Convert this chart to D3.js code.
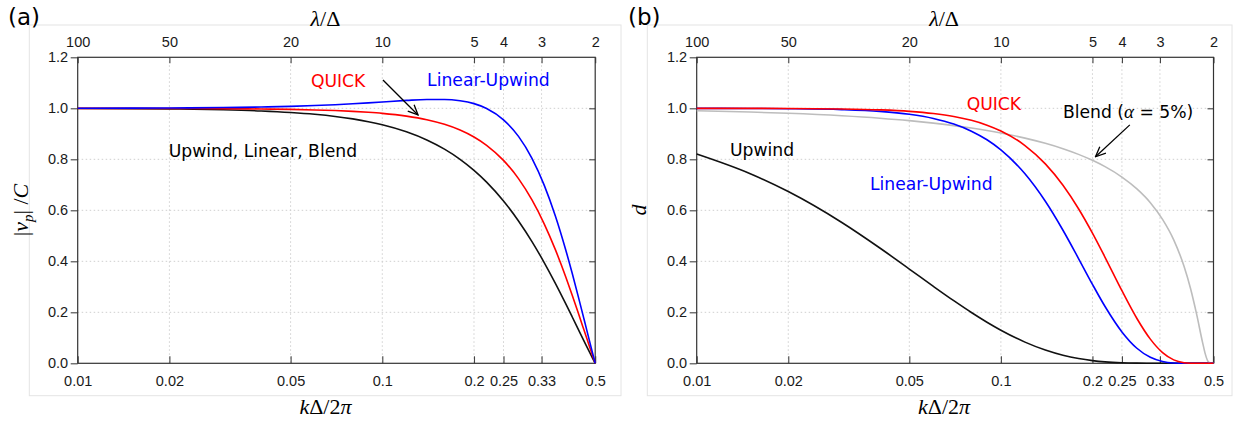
<!DOCTYPE html>
<html>
<head>
<meta charset="utf-8">
<script src="https://cdn.jsdelivr.net/npm/d3@7"></script>
<style>
  body { margin: 0; background: #fff; }
</style>
</head>
<body>
<div id="chart"></div>
<script>
// sample points of kΔ/2π
var kValues = [0.01, 0.015, 0.02, 0.03, 0.04, 0.05, 0.06, 0.07, 0.08, 0.09, 0.1, 0.12, 0.14, 0.16, 0.18,
               0.2, 0.22, 0.25, 0.28, 0.31, 0.34, 0.37, 0.4, 0.42, 0.44, 0.46, 0.47, 0.48, 0.49, 0.5];

// (a) phase speed |vp|/C
var speedUpwind = [0.9993, 0.9985, 0.9974, 0.9941, 0.9895, 0.9836, 0.9765, 0.9681, 0.9584, 0.9476, 0.9355, 0.9079, 0.8759, 0.8399, 0.8000,
                   0.7568, 0.7106, 0.6366, 0.5583, 0.4774, 0.3952, 0.3136, 0.2339, 0.1826, 0.1332, 0.0861, 0.0635, 0.0416, 0.0204, 0];
var speedQuick = [0.9998, 0.9996, 0.9993, 0.9985, 0.9973, 0.9957, 0.9936, 0.9911, 0.9881, 0.9844, 0.9802, 0.9694, 0.9553, 0.9373, 0.9149,
                  0.8876, 0.8550, 0.7958, 0.7241, 0.6406, 0.5470, 0.4456, 0.3396, 0.2682, 0.1974, 0.1284, 0.0949, 0.0623, 0.0306, 0];
var speedLinearUpwind = [1.0003, 1.0007, 1.0013, 1.0029, 1.0051, 1.0077, 1.0108, 1.0141, 1.0177, 1.0213, 1.0248, 1.0309, 1.0347, 1.0348, 1.0297,
                         1.0183, 0.9994, 0.9549, 0.8898, 0.8039, 0.6987, 0.5777, 0.4454, 0.3538, 0.2616, 0.1707, 0.1263, 0.0830, 0.0408, 0];

// (b) damping d
var dampUpwind = [0.8208, 0.7436, 0.6735, 0.5522, 0.4521, 0.3697, 0.3016, 0.2455, 0.1992, 0.1611, 0.1298, 0.0831, 0.0520, 0.0316, 0.0186,
                  0.0104, 0.0055, 0.0019, 0.0005, 0.0001, 0, 0, 0, 0, 0, 0, 0, 0, 0, 0];
var dampQuick = [0.9999, 0.9997, 0.9992, 0.9974, 0.9938, 0.9881, 0.9795, 0.9679, 0.9528, 0.9339, 0.9112, 0.8540, 0.7822, 0.6983, 0.6062,
                 0.5105, 0.4158, 0.2846, 0.1758, 0.0948, 0.0420, 0.0135, 0.0024, 0.0004, 0, 0, 0, 0, 0, 0];
var dampLinearUpwind = [0.9998, 0.9993, 0.9984, 0.9948, 0.9878, 0.9765, 0.9602, 0.9382, 0.9103, 0.8765, 0.8370, 0.7431, 0.6353, 0.5217, 0.4109,
                        0.3097, 0.2227, 0.1232, 0.0590, 0.0234, 0.0070, 0.0013, 0.0001, 0, 0, 0, 0, 0, 0, 0];
var dampBlend = [0.9902, 0.9853, 0.9804, 0.9707, 0.9611, 0.9515, 0.9418, 0.9322, 0.9225, 0.9128, 0.9030, 0.8830, 0.8626, 0.8414, 0.8193,
                 0.7959, 0.7711, 0.7304, 0.6840, 0.6300, 0.5644, 0.4840, 0.3803, 0.2942, 0.1926, 0.0832, 0.0360, 0.0068, 0, 0];

// tick values / labels
var bottomTicks = [0.01, 0.02, 0.05, 0.1, 0.2, 0.25, 1 / 3, 0.5];
var bottomTickLabels = ["0.01", "0.02", "0.05", "0.1", "0.2", "0.25", "0.33", "0.5"];
var topTicks = [100, 50, 20, 10, 5, 4, 3, 2];
var yTicks = [0, 0.2, 0.4, 0.6, 0.8, 1.0, 1.2];

var w = 1242, h = 425;
var plotTop = 57.3, plotBottom = 363.3;
var tickFont = "'Liberation Sans', Arial, Helvetica, sans-serif";
var noteFont = "'DejaVu Sans', Verdana, sans-serif";
var mathFont = "'Liberation Serif', 'Times New Roman', serif";

var svg = d3.select("#chart")
            .append("svg")
            .attr("width", w)
            .attr("height", h)
            .style("background", "#fff");

svg.append("defs").append("marker")
   .attr("id", "arrow")
   .attr("viewBox", "0 0 12 12")
   .attr("refX", 11)
   .attr("refY", 6)
   .attr("markerWidth", 12)
   .attr("markerHeight", 12)
   .attr("markerUnits", "userSpaceOnUse")
   .attr("orient", "auto")
   .append("path")
   .attr("d", "M1,1.5 L11,6 L1,10.5")
   .attr("fill", "none")
   .attr("stroke", "#000")
   .attr("stroke-width", 1.3);

function drawPanel(p) {
  var g = svg.append("g");

  var x = d3.scaleLog().domain([0.01, 0.5]).range([p.left, p.right]);
  var lam = d3.scaleLog().domain([100, 2]).range([p.left, p.right]);
  var y = d3.scaleLinear().domain([0, 1.2]).range([plotBottom, plotTop]);

  // light outer frame
  g.append("rect")
   .attr("x", p.frameLeft).attr("y", 25)
   .attr("width", p.frameRight - p.frameLeft).attr("height", 395.7 - 25)
   .attr("fill", "none").attr("stroke", "#e4e4e4").attr("stroke-width", 1);

  // panel label
  g.append("text")
   .attr("x", p.labelX).attr("y", 25)
   .attr("font-family", noteFont).attr("font-size", "23px")
   .text(p.label);

  // grid
  g.selectAll(".vgrid")
   .data(bottomTicks.slice(1, -1))
   .enter().append("line")
   .attr("x1", function(d) { return x(d); })
   .attr("x2", function(d) { return x(d); })
   .attr("y1", plotTop).attr("y2", plotBottom)
   .attr("stroke", "#cfcfcf").attr("stroke-dasharray", "1.5,2.5");
  g.selectAll(".hgrid")
   .data(yTicks.slice(1, -1))
   .enter().append("line")
   .attr("x1", p.left).attr("x2", p.right)
   .attr("y1", function(d) { return y(d); })
   .attr("y2", function(d) { return y(d); })
   .attr("stroke", "#cfcfcf").attr("stroke-dasharray", "1.5,2.5");

  // axes
  var axB = g.append("g")
    .attr("transform", "translate(0," + plotBottom + ")")
    .call(d3.axisBottom(x).tickValues(bottomTicks)
      .tickFormat(function(d, i) { return bottomTickLabels[i]; })
      .tickSize(-7).tickPadding(12.4));
  var axT = g.append("g")
    .attr("transform", "translate(0," + plotTop + ")")
    .call(d3.axisTop(lam).tickValues(topTicks).tickFormat(d3.format("d"))
      .tickSize(-6).tickPadding(10.6));
  var axL = g.append("g")
    .attr("transform", "translate(" + p.left + ",0)")
    .call(d3.axisLeft(y).tickValues(yTicks).tickFormat(d3.format(".1f"))
      .tickSize(7).tickPadding(2.5));
  var axR = g.append("g")
    .attr("transform", "translate(" + p.right + ",0)")
    .call(d3.axisRight(y).tickValues(yTicks.slice(1, -1)).tickFormat("")
      .tickSize(-6));

  [axB, axT, axL, axR].forEach(function(a) {
    a.select(".domain").remove();
    a.selectAll("line").attr("stroke", "#444").attr("stroke-width", 1.1);
    a.selectAll("text")
     .attr("font-family", tickFont)
     .attr("font-size", "14.5px")
     .attr("fill", "#1a1a1a");
  });

  // plot border
  g.append("rect")
   .attr("x", p.left).attr("y", plotTop)
   .attr("width", p.right - p.left).attr("height", plotBottom - plotTop)
   .attr("fill", "none").attr("stroke", "#333").attr("stroke-width", 1.2);

  // curves
  var line = d3.line()
    .x(function(d) { return x(d[0]); })
    .y(function(d) { return y(d[1]); })
    .curve(d3.curveMonotoneX);

  p.series.forEach(function(s) {
    g.append("path")
     .datum(kValues.map(function(k, i) { return [k, s.values[i]]; }))
     .attr("d", line)
     .attr("fill", "none")
     .attr("stroke", s.color)
     .attr("stroke-width", 1.6);
  });

  // axis titles
  var mid = (p.left + p.right) / 2 - 11;
  var tTop = g.append("text")
    .attr("x", mid).attr("y", 26)
    .attr("text-anchor", "middle")
    .attr("font-family", mathFont).attr("font-size", "22px");
  tTop.append("tspan").attr("font-style", "italic").text("λ");
  tTop.append("tspan").text("/Δ");

  var tBot = g.append("text")
    .attr("x", mid).attr("y", 414)
    .attr("text-anchor", "middle")
    .attr("font-family", mathFont).attr("font-size", "22px");
  tBot.append("tspan").attr("font-style", "italic").text("k");
  tBot.append("tspan").text("Δ/2");
  tBot.append("tspan").attr("font-style", "italic").text("π");

  var tY = g.append("text")
    .attr("transform", "translate(" + p.yTitleX + ",210) rotate(-90)")
    .attr("text-anchor", "middle")
    .attr("font-family", mathFont).attr("font-size", "22px");
  p.yTitle(tY);

  // annotations
  p.notes.forEach(function(n) {
    var t = g.append("text")
      .attr("x", x(n.k)).attr("y", y(n.v))
      .attr("font-family", noteFont).attr("font-size", "17.2px")
      .attr("fill", n.color);
    if (n.parts) {
      n.parts.forEach(function(pt) {
        var ts = t.append("tspan").text(pt.t);
        if (pt.math) ts.attr("font-family", mathFont).attr("font-style", "italic").attr("font-size", "19px");
      });
    } else {
      t.text(n.text);
    }
  });

  p.arrows.forEach(function(a) {
    g.append("line")
     .attr("x1", x(a[0])).attr("y1", y(a[1]))
     .attr("x2", x(a[2])).attr("y2", y(a[3]))
     .attr("stroke", "#000").attr("stroke-width", 1.3)
     .attr("marker-end", "url(#arrow)");
  });
}

drawPanel({
  label: "(a)", labelX: 8,
  left: 77.7, right: 595.2,
  frameLeft: 29.3, frameRight: 621,
  yTitleX: 28,
  yTitle: function(t) {
    t.append("tspan").text("|");
    t.append("tspan").attr("font-style", "italic").text("v");
    t.append("tspan").attr("font-style", "italic").attr("font-size", "15px").attr("dy", 5).text("p");
    t.append("tspan").attr("dy", -5).text("| /");
    t.append("tspan").attr("font-style", "italic").text("C");
  },
  series: [
    {values: speedUpwind, color: "#111"},
    {values: speedQuick, color: "#ff0000"},
    {values: speedLinearUpwind, color: "#0000ff"}
  ],
  notes: [
    {k: 0.0583, v: 1.0835, text: "QUICK", color: "#ff0000"},
    {k: 0.1403, v: 1.0875, text: "Linear-Upwind", color: "#0000ff"},
    {k: 0.0199, v: 0.810, text: "Upwind, Linear, Blend", color: "#000"}
  ],
  arrows: [[0.1005, 1.111, 0.131, 0.974]]
});

drawPanel({
  label: "(b)", labelX: 628,
  left: 696.7, right: 1213.5,
  frameLeft: 647.3, frameRight: 1232,
  yTitleX: 646,
  yTitle: function(t) {
    t.append("tspan").attr("font-style", "italic").text("d");
  },
  series: [
    {values: dampUpwind, color: "#111"},
    {values: dampBlend, color: "#bdbdbd"},
    {values: dampLinearUpwind, color: "#0000ff"},
    {values: dampQuick, color: "#ff0000"}
  ],
  notes: [
    {k: 0.0772, v: 0.993, text: "QUICK", color: "#ff0000"},
    {k: 0.1599, v: 0.962, color: "#000",
     parts: [{t: "Blend ("}, {t: "α", math: true}, {t: " = 5%)"}]},
    {k: 0.01287, v: 0.813, text: "Upwind", color: "#000"},
    {k: 0.0371, v: 0.680, text: "Linear-Upwind", color: "#0000ff"}
  ],
  arrows: [[0.2654, 0.935, 0.2047, 0.81]]
});
</script>
</body>
</html>
